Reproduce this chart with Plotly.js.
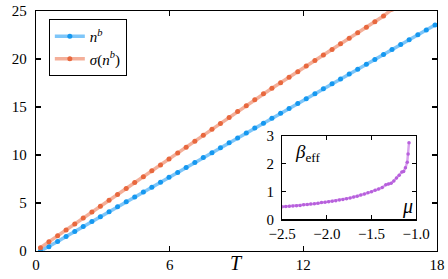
<!DOCTYPE html>
<html>
<head>
<meta charset="utf-8">
<script src="https://cdn.plot.ly/plotly-3.0.1.min.js"></script>
<style>
html,body{margin:0;padding:0;background:#fff;}
#chart{width:448px;height:279px;}
#chart text{font-family:'Liberation Serif' !important;}
</style>
</head>
<body>
<div id="chart"></div>
<script>
// Main panel: temperature T
const T = [0.2, 0.58, 0.97, 1.35, 1.74, 2.12, 2.51, 2.89, 3.28, 3.66, 4.05, 4.43, 4.82, 5.2, 5.59, 5.97, 6.36, 6.74, 7.13, 7.51, 7.9, 8.28, 8.67, 9.05, 9.44, 9.82, 10.21, 10.59, 10.98, 11.36, 11.75, 12.13, 12.52, 12.9, 13.29, 13.67, 14.06, 14.44, 14.83, 15.21, 15.6, 15.98, 16.37, 16.75, 17.14, 17.52, 17.91];
// n^b
const nB = [0.0, 0.45, 0.98, 1.50, 2.02, 2.54, 3.06, 3.57, 4.09, 4.60, 5.12, 5.63, 6.14, 6.65, 7.17, 7.68, 8.19, 8.70, 9.22, 9.73, 10.24, 10.75, 11.27, 11.78, 12.29, 12.80, 13.31, 13.82, 14.34, 14.85, 15.36, 15.87, 16.38, 16.89, 17.41, 17.92, 18.43, 18.94, 19.45, 19.96, 20.48, 20.99, 21.50, 22.01, 22.52, 23.03, 23.55];
// sigma(n^b) (visible up to the top of the frame)
const sigmaNB = [0.35, 0.97, 1.58, 2.20, 2.81, 3.43, 4.05, 4.66, 5.28, 5.89, 6.51, 7.13, 7.74, 8.36, 8.97, 9.59, 10.21, 10.82, 11.44, 12.05, 12.67, 13.29, 13.90, 14.52, 15.13, 15.75, 16.37, 16.95, 17.53, 18.10, 18.68, 19.26, 19.84, 20.42, 21.00, 21.58, 22.15, 22.73, 23.31, 23.89, 24.47, 25.2];
const Tsigma = T.slice(0, sigmaNB.length);

// Inset: beta_eff vs mu
const mu = [-2.50, -2.46, -2.42, -2.38, -2.34, -2.30, -2.26, -2.22, -2.18, -2.14, -2.10, -2.06, -2.02, -1.98, -1.94, -1.90, -1.86, -1.82, -1.78, -1.74, -1.70, -1.66, -1.62, -1.58, -1.54, -1.50, -1.46, -1.42, -1.38, -1.34, -1.31, -1.28, -1.25, -1.22, -1.19, -1.16, -1.14, -1.12, -1.10, -1.09, -1.08];
const betaEff = [0.45, 0.46, 0.47, 0.48, 0.49, 0.50, 0.52, 0.53, 0.55, 0.56, 0.58, 0.60, 0.61, 0.63, 0.65, 0.67, 0.69, 0.71, 0.74, 0.77, 0.80, 0.83, 0.87, 0.91, 0.95, 0.99, 1.04, 1.09, 1.14, 1.24, 1.27, 1.30, 1.38, 1.48, 1.58, 1.70, 1.72, 1.85, 2.05, 2.35, 2.75];

const xTicks = [0, 6, 12, 18];
const yTicks = [0, 5, 10, 15, 20, 25];
const muTicks = [-2.5, -2.0, -1.5, -1.0];
const betaTicks = [0, 1, 2, 3];

const FONT = 'Liberation Serif';

const traces = [
  {x: T, y: nB, type: 'scatter', mode: 'lines+markers', name: '<i>n</i><sup><i>b</i></sup>',
   line: {color: 'rgba(40,160,245,0.6)', width: 3.5}, marker: {color: '#1598f0', size: 5}},
  {x: Tsigma, y: sigmaNB, type: 'scatter', mode: 'lines+markers', name: '<i>σ</i>(<i>n</i><sup><i>b</i></sup>)',
   line: {color: 'rgba(235,110,70,0.55)', width: 3.5}, marker: {color: '#e8683e', size: 5}},
  {x: mu, y: betaEff, type: 'scatter', mode: 'lines+markers', xaxis: 'x2', yaxis: 'y2', showlegend: false,
   line: {color: 'rgba(190,100,225,0.6)', width: 2.5}, marker: {color: '#b760dc', size: 3.5}}
];

const axCommon = {showline: true, linecolor: '#000', linewidth: 1.2, mirror: 'ticks', ticks: 'inside',
  ticklen: 5, tickcolor: '#000', tickwidth: 1.2, showgrid: false, zeroline: false,
  tickfont: {family: FONT, size: 15, color: '#000'}};

const layout = {
  width: 448, height: 279,
  margin: {l: 36, r: 11, t: 11, b: 28},
  paper_bgcolor: '#fff', plot_bgcolor: '#fff',
  font: {family: FONT, size: 15, color: '#000'},
  xaxis: Object.assign({}, axCommon, {range: [0, 18], tickvals: xTicks, ticktext: xTicks.map(String), domain: [0, 1]}),
  yaxis: Object.assign({}, axCommon, {range: [0, 25], tickvals: yTicks, ticktext: yTicks.map(String), ticklabelstandoff: 5}),
  xaxis2: Object.assign({}, axCommon, {range: [-2.5, -1.0], tickvals: muTicks, tickformat: '.1f', domain: [0.614, 0.948], anchor: 'y2', ticklen: 4}),
  yaxis2: Object.assign({}, axCommon, {range: [0, 3], tickvals: betaTicks, domain: [0.132, 0.48], anchor: 'x2', ticklen: 4, ticklabelstandoff: 4}),
  showlegend: true,
  legend: {x: 0.032, y: 0.967, xanchor: 'left', yanchor: 'top', bordercolor: '#000', borderwidth: 1,
    bgcolor: '#fff', font: {family: FONT, size: 15, color: '#000'}, itemwidth: 30, tracegroupgap: 0},
  annotations: [
    {text: '<i>T</i>', xref: 'x', yref: 'paper', x: 9, y: -0.048, xanchor: 'center', yanchor: 'middle', showarrow: false,
     font: {family: FONT, size: 20, color: '#000'}},
    {text: '<i>β</i><sub>eff</sub>', xref: 'paper', yref: 'paper', x: 0.64, y: 0.465, xanchor: 'left', yanchor: 'top', showarrow: false,
     font: {family: FONT, size: 19, color: '#000'}},
    {text: '<i>μ</i>', xref: 'paper', yref: 'paper', x: 0.945, y: 0.128, xanchor: 'right', yanchor: 'bottom', showarrow: false,
     font: {family: FONT, size: 20, color: '#000'}}
  ]
};

Plotly.newPlot('chart', traces, layout, {displayModeBar: false, staticPlot: true});
</script>
</body>
</html>
